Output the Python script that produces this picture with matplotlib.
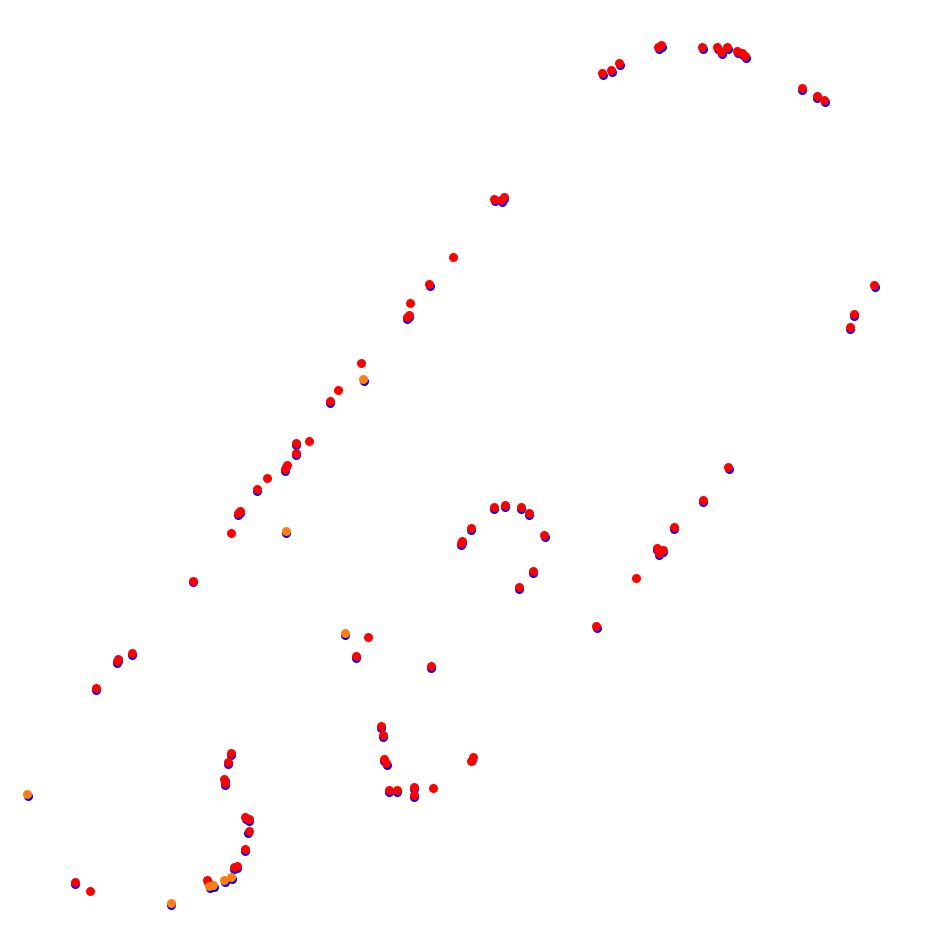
import matplotlib
matplotlib.use("Agg")
import matplotlib.pyplot as plt

# blue series (drawn first, underneath)
blue_x = [603, 612, 620, 659, 662, 703, 718, 722, 728, 738, 743, 746, 802, 817, 825,
          495, 502, 504, 430, 409, 407, 330, 296, 296, 286, 285, 257, 240, 238, 193,
          132, 118, 117, 96, 875, 854, 850, 494, 505, 521, 529, 545, 471, 462, 461,
          533, 519, 729, 703, 674, 657, 659, 663, 597, 356, 431, 381, 383, 384, 387,
          389, 397, 414, 414, 472, 231, 228, 225, 225, 246, 249, 248, 245, 237, 234,
          75, 364, 286, 345, 28, 210, 214, 225, 232, 171, 208]
blue_y = [75, 72, 65, 49, 47, 49, 49, 54, 49, 53, 55, 58, 90, 98, 102,
          201, 202, 199, 286, 317, 319, 403, 445, 455, 467, 471, 491, 513, 515, 582,
          655, 661, 663, 690, 287, 316, 329, 509, 507, 509, 515, 537, 530, 543, 545,
          573, 589, 469, 502, 529, 550, 555, 552, 628, 658, 668, 728, 737, 761, 765,
          792, 792, 789, 797, 760, 755, 764, 781, 785, 819, 821, 833, 851, 868, 869,
          884, 381, 533, 635, 796, 888, 887, 882, 879, 905, 882]

# red series
red_x = [602, 611, 619, 658, 661, 702, 717, 721, 727, 737, 742, 745, 802, 817, 824,
         494, 501, 504, 453, 429, 410, 409, 407, 361, 338, 330, 309, 296, 296, 287,
         285, 267, 257, 240, 238, 231, 193, 132, 118, 117, 96, 874, 854, 850,
         494, 505, 521, 529, 544, 471, 462, 461, 533, 519, 728, 703, 674, 657, 659,
         663, 636, 596, 368, 356, 431, 381, 383, 384, 386, 389, 397, 414, 414, 433,
         473, 471, 231, 228, 224, 225, 245, 249, 249, 245, 237, 234, 207, 75, 90]
red_y = [73, 70, 63, 47, 45, 47, 47, 52, 47, 51, 53, 56, 88, 96, 100,
         199, 200, 197, 257, 284, 303, 315, 317, 363, 390, 401, 441, 443, 453, 465,
         469, 478, 489, 511, 513, 533, 581, 653, 659, 661, 688, 285, 314, 327,
         507, 505, 507, 513, 535, 528, 541, 543, 571, 587, 467, 500, 527, 548, 553,
         550, 578, 626, 637, 656, 666, 726, 735, 759, 763, 790, 790, 787, 795, 788,
         757, 761, 753, 762, 779, 783, 817, 819, 831, 849, 866, 867, 880, 882, 891]

# orange series (drawn last)
orange_x = [363, 286, 345, 27, 209, 213, 224, 231, 171]
orange_y = [379, 531, 633, 794, 886, 885, 880, 877, 903]

fig = plt.figure(figsize=(9.31, 9.40), dpi=100)
ax = fig.add_axes([0, 0, 1, 1])

ax.scatter(blue_x, blue_y, s=42, color="blue", linewidths=0)
ax.scatter(red_x, red_y, s=42, color="red", linewidths=0)
ax.scatter(orange_x, orange_y, s=42, color="tab:orange", linewidths=0)

ax.set_xlim(0, 931)
ax.set_ylim(940, 0)
ax.axis("off")

fig.savefig("out.png", dpi=100)
